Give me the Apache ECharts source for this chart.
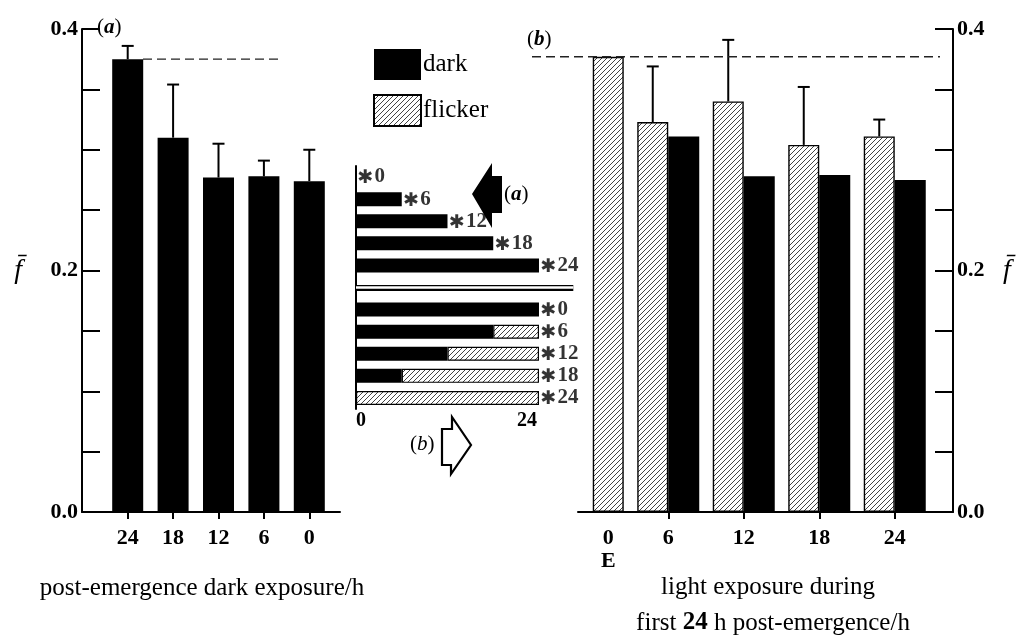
<!DOCTYPE html>
<html>
<head>
<meta charset="utf-8">
<script src="https://cdn.jsdelivr.net/npm/echarts@6/dist/echarts.min.js"></script>
<style>
  html, body { margin: 0; padding: 0; background: #fff; }
  #chart { width: 1026px; height: 635px; }
</style>
</head>
<body>
<div id="chart"></div>
<script>
// Panel (a): hours of dark exposure after emergence
const darkHours = ['24', '18', '12', '6', '0'];
const darkMean = [0.375, 0.310, 0.277, 0.278, 0.274];
const darkUpper = [0.386, 0.354, 0.305, 0.291, 0.300];

// Panel (b): hours of flicker light during the first 24 h
const lightHours = ['0', '6', '12', '18', '24'];
const flickerMean = [0.377, 0.323, 0.340, 0.304, 0.311];
const flickerUpper = [null, 0.369, 0.391, 0.352, 0.325];
const pairedDarkMean = [null, 0.311, 0.278, 0.279, 0.275];

// Schematic of the regimes (hours of the first 24 h); row 5 is the divider
const regimeDark = [0, 6, 12, 18, 24, null, 24, 18, 12, 6, 0];
const regimeFlicker = [0, 0, 0, 0, 0, null, 0, 6, 12, 18, 24];
const regimeLabels = ['0', '6', '12', '18', '24', '', '0', '6', '12', '18', '24'];
const regimeScaleLabels = [0, 24];

// Labelled values on the f axes
const fLabels = [0.0, 0.2, 0.4];

const SERIF = '"Liberation Serif", "DejaVu Serif", serif';
const BAR_W = 31;
const INK = '#000';

function hatchTile() {
  const s = 5;
  const c = document.createElement('canvas');
  c.width = s; c.height = s;
  const g = c.getContext('2d');
  g.fillStyle = '#fff';
  g.fillRect(0, 0, s, s);
  g.strokeStyle = '#222';
  g.lineWidth = 0.85;
  g.beginPath();
  g.moveTo(-1, s + 1); g.lineTo(s + 1, -1);
  g.moveTo(-1, 1); g.lineTo(1, -1);
  g.moveTo(s - 1, s + 1); g.lineTo(s + 1, s - 1);
  g.stroke();
  return c;
}
const hatchStyle = {
  color: { image: hatchTile(), repeat: 'repeat' },
  borderColor: INK,
  borderWidth: 1.4
};
const darkStyle = { color: INK };

const nz = v => (v == null || v === 0 ? '-' : v);

function errorBars(side) {
  return function (params, api) {
    const i = api.value(0);
    const lo = api.coord([i, api.value(1)]);
    const hi = api.coord([i, api.value(2)]);
    const x = lo[0] + side * BAR_W / 2;
    const cap = 6;
    const st = { stroke: INK, lineWidth: 2 };
    return {
      type: 'group',
      children: [
        { type: 'line', shape: { x1: x, y1: lo[1], x2: x, y2: hi[1] }, style: st },
        { type: 'line', shape: { x1: x - cap, y1: hi[1], x2: x + cap, y2: hi[1] }, style: st }
      ]
    };
  };
}

const tickFmt = v => (fLabels.some(t => Math.abs(t - v) < 1e-9) ? v.toFixed(1) : '');

const labelFont = { fontFamily: SERIF, fontWeight: 'bold', fontSize: 22, color: INK };
const fName = { fontFamily: SERIF, fontStyle: 'italic', fontSize: 28, color: INK };

const fAxis = (gridIndex, position, nameGap) => ({
  type: 'value', gridIndex, position, min: 0, max: 0.4, interval: 0.05,
  name: 'f\u0304', nameLocation: 'middle', nameRotate: 0, nameGap, nameTextStyle: fName,
  axisLine: { show: true, onZero: false, lineStyle: { color: INK, width: 2 } },
  axisTick: { show: true, inside: true, length: 18, lineStyle: { color: INK, width: 2 } },
  axisLabel: { margin: 4, formatter: tickFmt, ...labelFont },
  splitLine: { show: false }
});
const hiddenY = gridIndex => ({ type: 'value', gridIndex, min: 0, max: 0.4, show: false });
const frameX = gridIndex => ({
  type: 'value', gridIndex, min: 0, max: 1,
  axisLine: { show: true, onZero: false, lineStyle: { color: INK, width: 2 } },
  axisTick: { show: false }, axisLabel: { show: false }, splitLine: { show: false }
});
const hiddenX = gridIndex => ({ type: 'value', gridIndex, min: 0, max: 1, show: false });

const caption = (text, cx, cy, rich) => ({
  type: 'text', x: cx, y: cy,
  style: {
    text, font: '25px ' + SERIF, fill: INK,
    textAlign: 'center', align: 'center',
    textVerticalAlign: 'middle', verticalAlign: 'middle',
    rich
  }
});
const tag = (letter, left, top, bold) => ({
  type: 'text', left, top,
  style: {
    text: '({i|' + letter + '})', font: '21px ' + SERIF, fill: INK,
    rich: { i: { fontStyle: 'italic', fontWeight: bold ? 'bold' : 'normal', fontSize: 21, fontFamily: SERIF } }
  }
});

const chart = echarts.init(document.getElementById('chart'), null, { renderer: 'canvas' });

chart.setOption({
  backgroundColor: '#fff',
  animation: false,
  textStyle: { fontFamily: SERIF },
  legend: {
    data: ['dark', 'flicker'],
    orient: 'vertical', left: 368, top: 44,
    itemWidth: 47, itemHeight: 31, itemGap: 14,
    icon: 'rect', selectedMode: false,
    textStyle: { fontFamily: SERIF, fontSize: 25, color: INK, padding: [0, 0, 0, -3] }
  },
  grid: [
    { left: 82, top: 29, width: 258, height: 483 },     // 0 frame (a)
    { left: 105, top: 29, width: 227, height: 483 },    // 1 bars (a)
    { left: 578, top: 29, width: 375, height: 483 },    // 2 frame (b)
    { left: 555, top: 29, width: 377.5, height: 483 },  // 3 bars (b)
    { left: 143, top: 29, width: 139, height: 483 },    // 4 reference line (a)
    { left: 532, top: 29, width: 408, height: 483 },    // 5 reference line (b)
    { left: 356, top: 166, width: 217.3, height: 243 }  // 6 regime schematic
  ],
  xAxis: [
    frameX(0),
    {
      type: 'category', gridIndex: 1, data: darkHours,
      axisLine: { show: false },
      axisTick: { show: true, alignWithLabel: true, length: 7, lineStyle: { color: INK, width: 2 } },
      axisLabel: { margin: 15, ...labelFont }
    },
    frameX(2),
    {
      type: 'category', gridIndex: 3, data: lightHours,
      axisLine: { show: false },
      axisTick: {
        show: true, alignWithLabel: true, length: 7, lineStyle: { color: INK, width: 2 },
        interval: i => i !== 0
      },
      axisLabel: {
        margin: 15, ...labelFont, lineHeight: 23,
        formatter: (v, i) => (i === 0 ? '{e|' + v + '}\n{e|E}' : v),
        rich: { e: { ...labelFont, lineHeight: 23, padding: [0, 0, 0, BAR_W] } }
      }
    },
    hiddenX(4),
    hiddenX(5),
    {
      type: 'value', gridIndex: 6, min: 0, max: 28.5, interval: 24,
      axisLine: { show: false }, axisTick: { show: false }, splitLine: { show: false },
      axisLabel: {
        margin: 2,
        formatter: v => {
          if (v === regimeScaleLabels[0]) return '{l|' + v + '}';
          if (v === regimeScaleLabels[1]) return '{r|' + v + '}';
          return '';
        },
        rich: {
          l: { fontFamily: SERIF, fontWeight: 'bold', fontSize: 20, color: INK, padding: [0, 0, 0, 10] },
          r: { fontFamily: SERIF, fontWeight: 'bold', fontSize: 20, color: INK, padding: [0, 24, 0, 0] }
        }
      }
    }
  ],
  yAxis: [
    fAxis(0, 'left', 60),
    hiddenY(1),
    fAxis(2, 'right', 50),
    hiddenY(3),
    hiddenY(4),
    hiddenY(5),
    {
      type: 'category', gridIndex: 6, inverse: true,
      data: regimeLabels.map((l, i) => 'r' + i),
      axisLine: { show: true, onZero: false, lineStyle: { color: INK, width: 2 } },
      axisTick: { show: false }, axisLabel: { show: false }, splitLine: { show: false }
    }
  ],
  series: [
    // panel (a)
    {
      name: 'dark', type: 'bar', xAxisIndex: 1, yAxisIndex: 1,
      barWidth: BAR_W, itemStyle: darkStyle, data: darkMean
    },
    {
      type: 'custom', xAxisIndex: 1, yAxisIndex: 1, z: 3,
      renderItem: errorBars(0),
      data: darkMean.map((m, i) => [i, m, darkUpper[i]])
    },
    // panel (b)
    {
      name: 'flicker', type: 'bar', xAxisIndex: 3, yAxisIndex: 3,
      barWidth: BAR_W, barGap: '0%', itemStyle: hatchStyle,
      data: flickerMean.map((v, i) => (i === 0 ? '-' : v))
    },
    {
      name: 'dark', type: 'bar', xAxisIndex: 3, yAxisIndex: 3, stack: 'pair',
      barWidth: BAR_W, barGap: '0%', itemStyle: darkStyle,
      data: pairedDarkMean.map(v => (v == null ? '-' : v))
    },
    {
      name: 'flicker', type: 'bar', xAxisIndex: 3, yAxisIndex: 3, stack: 'pair',
      barWidth: BAR_W, barGap: '0%', itemStyle: hatchStyle,
      data: flickerMean.map((v, i) => (i === 0 ? v : '-'))
    },
    {
      type: 'custom', xAxisIndex: 3, yAxisIndex: 3, z: 3,
      renderItem: errorBars(-1),
      data: flickerMean.map((m, i) => [i, m, flickerUpper[i]]).filter(d => d[2] != null)
    },
    // dashed reference levels
    {
      type: 'line', xAxisIndex: 4, yAxisIndex: 4, symbol: 'none', silent: true,
      lineStyle: { color: '#222', width: 1.3, type: [9, 5] },
      data: [[0, darkMean[0]], [1, darkMean[0]]]
    },
    {
      type: 'line', xAxisIndex: 5, yAxisIndex: 5, symbol: 'none', silent: true,
      lineStyle: { color: '#222', width: 1.3, type: [9, 5] },
      data: [[0, flickerMean[0]], [1, flickerMean[0]]]
    },
    // regime schematic
    {
      name: 'dark', type: 'bar', xAxisIndex: 6, yAxisIndex: 6, stack: 'regime',
      barWidth: 14, itemStyle: darkStyle, data: regimeDark.map(nz),
      markLine: {
        silent: true, symbol: 'none', label: { show: false },
        data: [
          { yAxis: 5, lineStyle: { color: INK, width: 6, type: 'solid' } },
          { yAxis: 5, lineStyle: { color: '#fff', width: 2.6, type: 'solid' } }
        ]
      }
    },
    {
      name: 'flicker', type: 'bar', xAxisIndex: 6, yAxisIndex: 6, stack: 'regime',
      barWidth: 14, itemStyle: { ...hatchStyle, borderWidth: 1.2 }, data: regimeFlicker.map(nz)
    },
    {
      type: 'scatter', xAxisIndex: 6, yAxisIndex: 6, symbolSize: 1,
      itemStyle: { color: 'rgba(0,0,0,0)' }, silent: true,
      data: regimeLabels
        .map((l, i) => ({ name: l, value: [(regimeDark[i] || 0) + (regimeFlicker[i] || 0), i] }))
        .filter(d => d.name !== ''),
      label: {
        show: true, position: 'right', distance: 1,
        formatter: p => '{s|\u2731}{n|' + p.name + '}',
        rich: {
          s: { fontFamily: '"DejaVu Sans"', fontSize: 19, fontWeight: 'bold', color: INK, padding: [3, 1, 0, 0] },
          n: { fontFamily: SERIF, fontSize: 21, fontWeight: 'bold', color: INK }
        }
      }
    }
  ],
  graphic: [
    tag('a', 97, 17, true),
    tag('b', 527, 29, true),
    {
      type: 'polygon', z: 10,
      shape: { points: [[472, 194], [492, 163], [492, 176], [502, 176], [502, 213], [492, 213], [492, 228]] },
      style: { fill: INK }
    },
    tag('a', 504, 184, true),
    {
      type: 'polygon', z: 10,
      shape: { points: [[442, 429], [452, 429], [452, 417], [471, 445], [451, 474], [451, 465], [442, 465]] },
      style: { fill: '#fff', stroke: INK, lineWidth: 2.2 }
    },
    tag('b', 410, 434, false),
    caption('post-emergence dark exposure/h', 202, 588),
    caption('light exposure during', 768, 587),
    caption('first {b|24} h post-emergence/h', 773, 623,
      { b: { fontWeight: 'bold', fontSize: 25, fontFamily: SERIF } })
  ]
});
</script>
</body>
</html>
